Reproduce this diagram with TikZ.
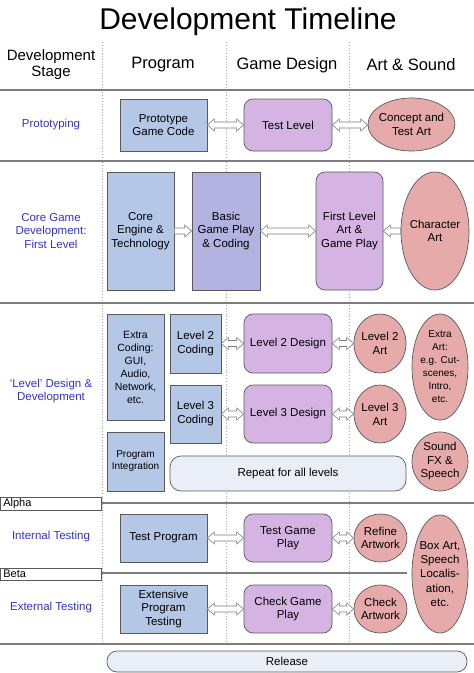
\documentclass[tikz,border=0pt]{standalone}
\usepackage{fontspec}
\setmainfont{Liberation Sans}
\usetikzlibrary{calc,shapes.geometric}
\definecolor{progblue}{RGB}{180,199,231}
\definecolor{basicblue}{RGB}{180,178,225}
\definecolor{despurple}{RGB}{213,180,228}
\definecolor{artpink}{RGB}{230,170,170}
\definecolor{palebox}{RGB}{233,238,247}
\definecolor{stageblue}{RGB}{51,51,204}
\definecolor{bordergray}{RGB}{90,90,90}
\definecolor{linegray}{RGB}{125,125,125}
\definecolor{dotgray}{RGB}{170,170,170}
\newcommand\fs[2]{\fontsize{#1}{#2}\selectfont}
\newcommand\dblarrow[2]{%
 \draw[blk] let \p1=(#1), \p2=(#2) in
 (\x1,\y1) -- (\x1+7pt,\y1+6pt) -- (\x1+7pt,\y1+3pt) -- (\x2-7pt,\y1+3pt) -- (\x2-7pt,\y1+6pt) -- (\x2,\y1)
 -- (\x2-7pt,\y1-6pt) -- (\x2-7pt,\y1-3pt) -- (\x1+7pt,\y1-3pt) -- (\x1+7pt,\y1-6pt) -- cycle;}
\newcommand\sglarrow[2]{%
 \draw[blk] let \p1=(#1), \p2=(#2), \n1={\x2-7pt*sign(\x2-\x1)} in
 (\x1,\y1+3pt) -- (\n1,\y1+3pt) -- (\n1,\y1+6pt) -- (\x2,\y1) -- (\n1,\y1-6pt) -- (\n1,\y1-3pt) -- (\x1,\y1-3pt) -- cycle;}
\begin{document}
\begin{tikzpicture}[x=1pt,y=-1pt,
  box/.style={draw=bordergray, line width=0.7pt, inner sep=1pt, align=center, font=\fs{11.5}{13.5}},
  prog/.style={box, fill=progblue},
  basic/.style={box, fill=basicblue},
  des/.style={box, fill=despurple, rounded corners=9pt},
  art/.style={box, ellipse, fill=artpink, inner xsep=-12pt, inner ysep=-6pt},
  pale/.style={box, fill=palebox, rounded corners=11pt},
  sz/.style 2 args={minimum width=#1, minimum height=#2},
  stage/.style={text=stageblue, align=center, font=\fs{11.5}{13.5}},
  head/.style={align=center, font=\fs{16.5}{18}},
  hline/.style={draw=linegray, line width=1.1pt},
  vline/.style={draw=dotgray, line width=0.8pt, dotted},
  tag/.style={draw=bordergray, fill=white, line width=0.7pt, minimum width=101, minimum height=12.5, inner sep=0pt, anchor=north west, text width=95, align=left, font=\fs{11}{12}},
  blk/.style={draw=linegray, fill=white, line width=0.6pt}
]
\fill[white] (0,0) rectangle (474,673);
\useasboundingbox (0,0) rectangle (474,673);

% grid
\foreach \xx in {102,226,349} \draw[vline] (\xx,42) -- (\xx,645);
\draw[hline] (0,90) -- (474,90);
\draw[hline] (0,161) -- (474,161);
\draw[hline] (0,303) -- (474,303);
\draw[hline] (101,503) -- (474,503);
\draw[hline] (101,573) -- (407,573);
\draw[hline] (0,644) -- (474,644);

% title and headers
\node[font=\fs{30}{32}] (title) at (248,22) {Development Timeline};
\node[align=center, font=\fs{15}{16}] (hstage) at (51,65) {Development\\Stage};
\node[head] (hprog) at (163,65) {Program};
\node[head] (hdes) at (287,65) {Game Design};
\node[head] (hart) at (411,65) {Art \& Sound};

% stage labels
\node[stage] (sproto) at (51,125) {Prototyping};
\node[stage] (score) at (51,231) {Core Game\\Development:\\First Level};
\node[stage] (slevel) at (51,391) {‘Level’ Design \&\\Development};
\node[stage] (sint) at (51,537) {Internal Testing};
\node[stage] (sext) at (51,608) {External Testing};
\node[tag] (alpha) at (0,497) {Alpha};
\node[tag] (beta) at (0,567.5) {Beta};

% row 1
\node[prog, sz={87}{52}] (proto) at (163.5,125) {Prototype\\Game Code};
\node[des, sz={88}{52}] (testlevel) at (288,125) {Test Level};
\node[art, sz={87}{53}] (concept) at (411.5,124.5) {Concept and\\Test Art};
\dblarrow{proto.east}{testlevel.west}
\dblarrow{testlevel.east}{concept.west}

% row 2
\node[prog, sz={67}{118}] (core) at (140.5,231) {Core\\Engine \&\\Technology};
\node[basic, sz={68}{118}] (basicgp) at (226,231) {Basic\\Game Play\\\& Coding};
\node[des, sz={67}{118}] (first) at (349.5,231) {First Level\\Art \&\\Game Play};
\node[art, sz={68}{118}] (charart) at (435,231) {Character\\Art};
\sglarrow{core.east}{basicgp.west}
\dblarrow{basicgp.east}{first.west}
\sglarrow{charart.west}{first.east}

% row 3
\node[prog, sz={57}{106}, font=\fs{10.5}{13}] (extra) at (135.5,367) {Extra\\Coding:\\GUI,\\Audio,\\Network,\\etc.};
\node[prog, sz={57}{59}, font=\fs{10}{12}] (integ) at (135.5,461.5) {Program\\Integration};
\node[prog, sz={51}{59}, font=\fs{11.5}{14}] (l2c) at (195.5,343.5) {Level 2\\Coding};
\node[prog, sz={51}{58}, font=\fs{11.5}{14}] (l3c) at (195.5,414) {Level 3\\Coding};
\node[des, sz={88}{59}] (l2d) at (288,343.5) {Level 2 Design};
\node[des, sz={88}{58}] (l3d) at (288,414) {Level 3 Design};
\node[art, sz={52}{59}, font=\fs{11.5}{14}] (l2a) at (380,343.5) {Level 2\\Art};
\node[art, sz={52}{58}, font=\fs{11.5}{14}] (l3a) at (380,414) {Level 3\\Art};
\node[art, sz={56}{106}, font=\fs{10}{13}] (extraart) at (440,367) {Extra\\Art:\\e.g. Cut-\\scenes,\\Intro,\\etc.};
\node[art, sz={56}{59}, font=\fs{11.5}{13.5}] (sound) at (440,461.5) {Sound\\FX \&\\Speech};
\node[pale, sz={236}{35}] (repeat) at (288,473.5) {Repeat for all levels};
\dblarrow{l2c.east}{l2d.west}
\dblarrow{l2d.east}{l2a.west}
\dblarrow{l3c.east}{l3d.west}
\dblarrow{l3d.east}{l3a.west}

% row 4
\node[prog, sz={87}{48}] (testprog) at (163.5,538) {Test Program};
\node[des, sz={88}{48}] (testplay) at (288,538) {Test Game\\Play};
\node[art, sz={53}{48}] (refine) at (380.5,538) {Refine\\Artwork};
\node[art, sz={56}{118}, font=\fs{11.5}{14.3}] (boxart) at (440,574) {Box Art,\\Speech\\Localis-\\ation,\\etc.};
\node[prog, sz={87}{48}] (extensive) at (163.5,609) {Extensive\\Program\\Testing};
\node[des, sz={88}{48}] (checkplay) at (288,609) {Check Game\\Play};
\node[art, sz={53}{48}] (checkart) at (380.5,609) {Check\\Artwork};
\dblarrow{testprog.east}{testplay.west}
\dblarrow{testplay.east}{refine.west}
\dblarrow{extensive.east}{checkplay.west}
\dblarrow{checkplay.east}{checkart.west}

% release
\node[pale, sz={360}{21}, rounded corners=10pt] (release) at (287,661.5) {Release};
\end{tikzpicture}
\end{document}
